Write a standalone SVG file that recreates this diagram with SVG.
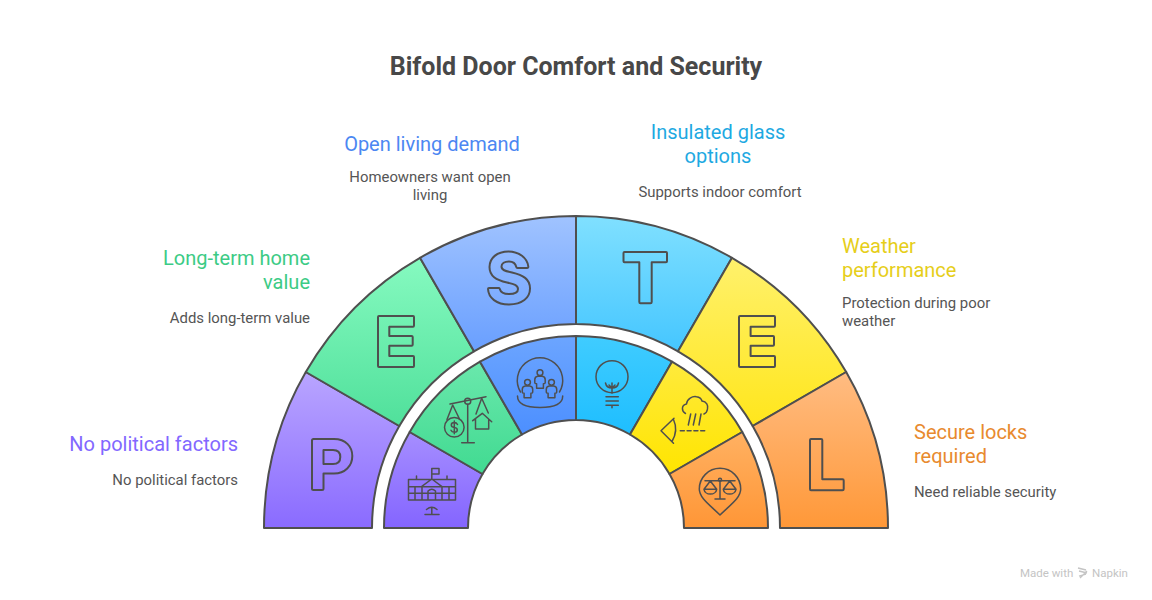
<svg xmlns="http://www.w3.org/2000/svg" xmlns:xlink="http://www.w3.org/1999/xlink" width="1152" height="600" viewBox="0 0 1152 600">
<style>
text{font-family:Roboto,"Liberation Sans",sans-serif}
.t{font-size:25px;font-weight:700;fill:#484848;text-anchor:middle}
.h{font-size:20px}
.d{font-size:14.9px;fill:#555555}
.e{text-anchor:end}.m{text-anchor:middle}
.s{stroke:#4f4f4f;stroke-width:2;stroke-linejoin:round}
.i{fill:none;stroke:#4f4f4f;stroke-width:1.5;stroke-linecap:round;stroke-linejoin:round}
.f{font-size:11.5px;fill:#c4c4c4}
</style>
<defs>
<linearGradient id="p1" x1="0" y1="0" x2="0" y2="1"><stop offset="0" stop-color="#B9A5FF"/><stop offset="1" stop-color="#8A6BFF"/></linearGradient>
<linearGradient id="p2" x1="0" y1="0" x2="0" y2="1"><stop offset="0" stop-color="#A68EFF"/><stop offset="1" stop-color="#8465FF"/></linearGradient>
<linearGradient id="g1" x1="0" y1="0" x2="0" y2="1"><stop offset="0" stop-color="#86FAC0"/><stop offset="1" stop-color="#50E09B"/></linearGradient>
<linearGradient id="g2" x1="0" y1="0" x2="0" y2="1"><stop offset="0" stop-color="#6AE8AC"/><stop offset="1" stop-color="#41DA91"/></linearGradient>
<linearGradient id="b1" x1="0" y1="0" x2="0" y2="1"><stop offset="0" stop-color="#A0C3FF"/><stop offset="1" stop-color="#699FFF"/></linearGradient>
<linearGradient id="b2" x1="0" y1="0" x2="0" y2="1"><stop offset="0" stop-color="#6CA5FF"/><stop offset="1" stop-color="#4C8FFF"/></linearGradient>
<linearGradient id="c1" x1="0" y1="0" x2="0" y2="1"><stop offset="0" stop-color="#80E0FF"/><stop offset="1" stop-color="#45C6FF"/></linearGradient>
<linearGradient id="c2" x1="0" y1="0" x2="0" y2="1"><stop offset="0" stop-color="#40CCFF"/><stop offset="1" stop-color="#1EBEFF"/></linearGradient>
<linearGradient id="y1" x1="0" y1="0" x2="0" y2="1"><stop offset="0" stop-color="#FFF16C"/><stop offset="1" stop-color="#FFE61C"/></linearGradient>
<linearGradient id="y2" x1="0" y1="0" x2="0" y2="1"><stop offset="0" stop-color="#FFEA3C"/><stop offset="1" stop-color="#FFE500"/></linearGradient>
<linearGradient id="o1" x1="0" y1="0" x2="0" y2="1"><stop offset="0" stop-color="#FFBC82"/><stop offset="1" stop-color="#FF9838"/></linearGradient>
<linearGradient id="o2" x1="0" y1="0" x2="0" y2="1"><stop offset="0" stop-color="#FFB162"/><stop offset="1" stop-color="#FF9636"/></linearGradient>
<g id="person" class="i"><circle cx="0" cy="0" r="2.9"/><path d="M-2.2 3.6 H2.2 Q5.2 4 5.2 7 V10 Q5.2 11 3.4 11 V15.5 H-3.4 V11 Q-5.2 11 -5.2 10 V7 Q-5.2 4 -2.2 3.6Z"/></g>
</defs>
<text class="t" x="576" y="75">Bifold Door Comfort and Security</text>
<g id="connectors"/>
<g id="node-p">
<path class="s" fill="url(#p1)" d="M264 528 A312 312 0 0 1 305.8 372 L399.3 426 A204 204 0 0 0 372 528Z"/>
<path class="s" fill="url(#p2)" d="M384 528 A192 192 0 0 1 409.7 432 L482.5 474 A108 108 0 0 0 468 528Z"/>
<path class="s" fill="none" d="M312 440.5 Q312 439 313.5 439 H334 C346 439 352.3 447 352.3 456 C352.3 466 345 473.5 334 473.5 H323.5 V488.5 Q323.5 490 322 490 H313.5 Q312 490 312 488.5Z M323.5 450 V464 H333 C338 464 340.3 461 340.3 457 C340.3 453 338 450 333 450Z"/>
<g class="i"><path d="M408.5 479.5 H455.5 V500 H408.5Z M408.5 486.7 H421.5 M442 486.7 H455.5 M408.5 493.3 H455.5 M415 486.7 V500 M422 486.7 V500 M442 486.7 V500 M449 486.7 V500 M421.5 486.7 L431.8 479 L442 486.7Z M428 500 V491 Q431.8 487.5 435.5 491 V500 M431.8 478.5 V468.5 H439 V474 H431.8 M416.5 476 V479.5 M447 476 V479.5"/><path d="M425 514.5 H439 M431.8 508 V514.5 M426.5 509.5 Q431.8 505 437 509.5"/></g>
<text class="h e" fill="#8268FF" x="238" y="451">No political factors</text>
<text class="d e" x="238" y="485">No political factors</text>
</g>
<g id="node-e1">
<path class="s" fill="url(#g1)" d="M305.8 372 A312 312 0 0 1 420 257.8 L474 351.3 A204 204 0 0 0 399.3 426Z"/>
<path class="s" fill="url(#g2)" d="M409.7 432 A192 192 0 0 1 480 361.7 L522 434.5 A108 108 0 0 0 482.5 474Z"/>
<path class="s" fill="none" d="M378 317 Q378 316 379 316 H413 Q414 316 414 317 V325.5 Q414 326.7 413 326.7 H389.3 V336 H411.5 Q412.7 336 412.7 337 V344.7 Q412.7 345.7 411.5 345.7 H389.3 V356 H413 Q414 356 414 357 V366 Q414 367 413 367 H379 Q378 367 378 366Z"/>
<g class="i"><path d="M450 404 L486 396.7 M467.7 404.3 V442.7 M461.7 442.7 H474.3"/><circle cx="467.7" cy="401.3" r="3"/><circle cx="454.3" cy="427.3" r="9.8"/><path d="M447 419.5 L452.7 405 L459.5 419"/><path d="M476 414 L481.7 398.3 L488.3 413"/><path d="M472.7 420.7 L482.3 413.3 L491.7 421.7 M475.5 419 V429 H488.7 V419"/><path d="M457.5 424.5 Q456.5 422.5 454.3 422.5 Q451.3 422.5 451.3 425 Q451.3 427.2 454.3 427.4 Q457.3 427.8 457.3 430 Q457.3 432.3 454.3 432.3 Q451.8 432.3 451 430.3 M454.3 421 V433.8"/></g>
<text class="h e" fill="#3CCB85" x="310" y="265">Long-term home</text>
<text class="h e" fill="#3CCB85" x="310" y="289">value</text>
<text class="d e" x="310" y="323">Adds long-term value</text>
</g>
<g id="node-s">
<path class="s" fill="url(#b1)" d="M420 257.8 A312 312 0 0 1 576 216 V324 A204 204 0 0 0 474 351.3Z"/>
<path class="s" fill="url(#b2)" d="M480 361.7 A192 192 0 0 1 576 336 V420 A108 108 0 0 0 522 434.5Z"/>
<path class="s" fill="none" d="M528.3 266.5 Q528.5 268 527 268 H517.5 Q516.5 268 516.3 267 C515.5 263.5 513 261.5 509 261.5 C504.5 261.5 501.5 263.5 501.5 266.5 C501.5 270 505 271 512 272.5 C523 275 530 279 530 288.5 C530 298 522 304.5 509 304.5 C496.5 304.5 488.5 298 488 289 Q488 288 489 288 H498.5 Q499.5 288 499.7 288.7 C500.5 292 504 294 509 294 C514 294 518 292.5 518 289 C518 285 514 284 507 282.5 C496 280 489.5 276 489.5 267 C489.5 258 497 251.5 508.5 251.5 C519 251.5 527.3 258 528.3 266.5Z"/>
<g class="i"><path d="M520.5 392 A22.7 22.7 0 1 1 559.5 392"/><path d="M517.5 396 Q517.5 407.5 540 407.5 Q562.7 407.5 562.7 396"/></g>
<use xlink:href="#person" href="#person" x="540" y="372.7"/>
<use xlink:href="#person" href="#person" x="527.5" y="382.3"/>
<use xlink:href="#person" href="#person" x="551.5" y="382.3"/>
<text class="h m" fill="#4C87F2" x="432" y="151">Open living demand</text>
<text class="d m" x="430" y="182">Homeowners want open</text>
<text class="d m" x="430" y="200">living</text>
</g>
<g id="node-t">
<path class="s" fill="url(#c1)" d="M576 216 A312 312 0 0 1 732 257.8 L678 351.3 A204 204 0 0 0 576 324Z"/>
<path class="s" fill="url(#c2)" d="M576 336 A192 192 0 0 1 672 361.7 L630 434.5 A108 108 0 0 0 576 420Z"/>
<path class="s" fill="none" d="M623.5 253 Q623.5 252 624.5 252 H666 Q667 252 667 253 V261.3 Q667 262.3 666 262.3 H651.7 V302 Q651.7 303.3 650.5 303.3 H640.5 Q639.3 303.3 639.3 302 V262.3 H624.5 Q623.5 262.3 623.5 261.3Z"/>
<g class="i"><circle cx="612" cy="376.7" r="16"/><path d="M612 383 V393 M605.5 383 Q606.5 388 612 388 Q617.5 388 618.5 383 M609 385 L612 388 L615 385 M606 396.7 H618.3 M606 401 H618.3 M606 405.3 H618.3 M612 405.3 V407.7"/></g>
<text class="h m" fill="#1EA9E2" x="718" y="139">Insulated glass</text>
<text class="h m" fill="#1EA9E2" x="718" y="163">options</text>
<text class="d m" x="720" y="197">Supports indoor comfort</text>
</g>
<g id="node-e2">
<path class="s" fill="url(#y1)" d="M732 257.8 A312 312 0 0 1 846.2 372 L752.7 426 A204 204 0 0 0 678 351.3Z"/>
<path class="s" fill="url(#y2)" d="M672 361.7 A192 192 0 0 1 742.3 432 L669.5 474 A108 108 0 0 0 630 434.5Z"/>
<path class="s" fill="none" d="M739 317 Q739 316 740 316 H774 Q775 316 775 317 V325.5 Q775 326.7 774 326.7 H750.6 V336 H773 Q774 336 774 337 V344.7 Q774 345.7 773 345.7 H750.6 V356 H774 Q775 356 775 357 V366 Q775 367 774 367 H740 Q739 367 739 366Z"/>
<g class="i"><path d="M685.5 413.5 C681.5 411.5 681 405 686.5 404 C687 398.5 692.5 396 696.5 396.7 C699.5 397 701.5 399 702 401 C706.5 401.5 708.5 405.5 707.5 409 C707 412 705.5 413.5 704 414"/><path d="M690.7 414 L688.3 425 M695.7 414 L693.3 425 M701 414 L699 425"/><path d="M680.3 430.7 H705.7" stroke-dasharray="4 2.8"/><path d="M674 418.3 L661 430.7 L673.5 443.3 M673.5 419.5 Q678.5 430.5 672 441.5"/></g>
<text class="h" fill="#E6CE1A" x="842" y="253">Weather</text>
<text class="h" fill="#E6CE1A" x="842" y="277">performance</text>
<text class="d" x="842" y="308">Protection during poor</text>
<text class="d" x="842" y="326">weather</text>
</g>
<g id="node-l">
<path class="s" fill="url(#o1)" d="M846.2 372 A312 312 0 0 1 888 528 H780 A204 204 0 0 0 752.7 426Z"/>
<path class="s" fill="url(#o2)" d="M742.3 432 A192 192 0 0 1 768 528 H684 A108 108 0 0 0 669.5 474Z"/>
<path class="s" fill="none" d="M810 440 Q810 439 811 439 H821 Q822.3 439 822.3 440 V479.3 H842.5 Q843.7 479.3 843.7 480.5 V489 Q843.7 490.3 842.5 490.3 H811 Q810 490.3 810 489Z"/>
<g class="i"><path d="M720 515 C710 505 699.3 498 699.3 489 A20.7 20.7 0 1 1 740.7 489 C740.7 498 730 505 720 515Z"/><path d="M705 480.7 H735 M720 482 V499 M715 499 H725 M704 489.3 H716.7 M723.3 489.3 H736 M704 489.3 A6.4 5.5 0 0 0 716.7 489.3 M723.3 489.3 A6.4 5.5 0 0 0 736 489.3 M710.3 481 L704 489.3 M710.3 481 L716.7 489.3 M729.7 481 L723.3 489.3 M729.7 481 L736 489.3"/><circle cx="720" cy="479.7" r="1.5"/></g>
<text class="h" fill="#E88A2E" x="914" y="439">Secure locks</text>
<text class="h" fill="#E88A2E" x="914" y="463">required</text>
<text class="d" x="914" y="497">Need reliable security</text>
</g>
<g id="footer">
<text class="f" x="1020" y="576.5">Made with</text>
<path d="M1078 568 L1086 570 M1079 571 L1087 573 M1086 574 L1079 576 M1087 571 L1080 578" fill="none" stroke="#c4c4c4" stroke-width="1.3"/>
<text class="f" x="1092" y="576.5">Napkin</text>
</g>
</svg>
